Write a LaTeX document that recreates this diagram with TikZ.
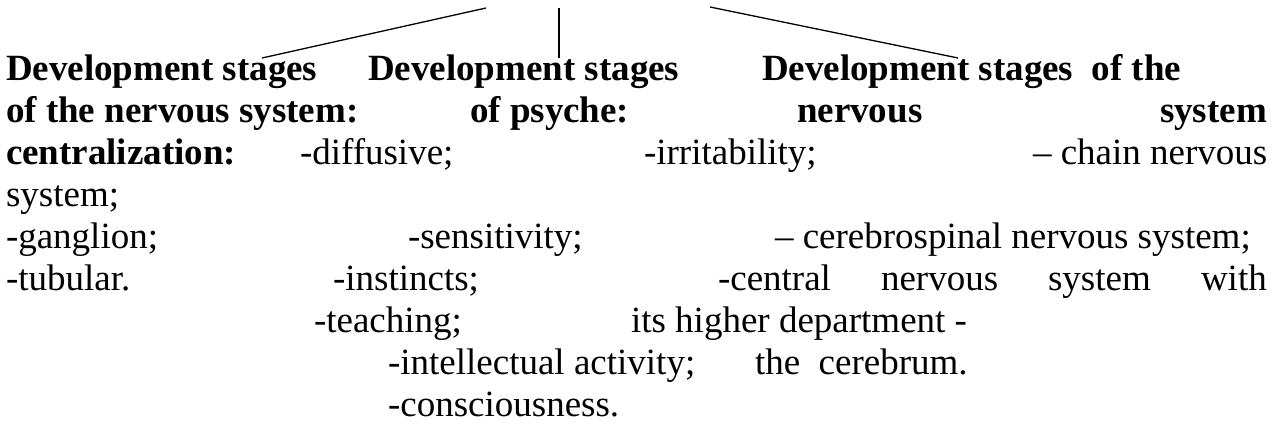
\documentclass[tikz,border=0pt]{standalone}
\usepackage{fontspec}
\setmainfont{Liberation Serif}
\begin{document}
\begin{tikzpicture}[x=1pt,y=-1pt,
  txt/.style={inner sep=0pt, outer sep=0pt, anchor=base west,
              font=\fontsize{37}{42}\selectfont},
  head/.style={txt, font=\fontsize{37}{42}\selectfont\bfseries},
  link/.style={line width=1.3pt}]
\useasboundingbox[fill=white] (0,0) rectangle (1282,431);

% headings of the three columns
\node[head] (h1)  at (6,80)     {Development stages};
\node[head] (h2)  at (368,80)   {Development stages};
\node[head] (h3)  at (762,80)   {Development stages\ \ of the};
\node[head] (h1b) at (6,122)    {of the nervous system:};
\node[head] (h2b) at (470,122)  {of psyche:};
\node[head] (h3b) at (797,122)  {nervous};
\node[head] (h3c) at (1160,122) {system};
\node[head] (h1c) at (6,164)    {centralization:};

% column items
\node[txt] (a1)  at (300,164)  {-diffusive;};
\node[txt] (b1)  at (644,164)  {-irritability;};
\node[txt] (c1)  at (1033,164) {– chain nervous};
\node[txt] (c1b) at (6,206)    {system;};
\node[txt] (a2)  at (6,248)    {-ganglion;};
\node[txt] (b2)  at (408,248)  {-sensitivity;};
\node[txt] (c2)  at (775,248)  {– cerebrospinal nervous system;};
\node[txt] (a3)  at (6,290)    {-tubular.};
\node[txt] (b3)  at (333,290)  {-instincts;};
\node[txt] (c3a) at (718,290)  {-central};
\node[txt] (c3b) at (881,290)  {nervous};
\node[txt] (c3c) at (1048,290) {system};
\node[txt] (c3d) at (1201,290) {with};
\node[txt] (b4)  at (314,332)  {-teaching;};
\node[txt] (c4)  at (631,332)  {its higher department -};
\node[txt] (b5)  at (388,374)  {-intellectual activity;};
\node[txt] (c5)  at (755,374)  {the\ \ cerebrum.};
\node[txt] (b6)  at (388,416)  {-consciousness.};

% connectors from above down to the headings
\coordinate (pL) at (486,8);
\coordinate (pM) at (559,8);
\coordinate (pR) at (710,7);
\draw[link] (pL) -- ([shift={(256,-22)}]h1.base west);
\draw[link] (pM) -- ([shift={(191,-22)}]h2.base west);
\draw[link] (pR) -- ([shift={(196,-22)}]h3.base west);
\end{tikzpicture}
\end{document}
